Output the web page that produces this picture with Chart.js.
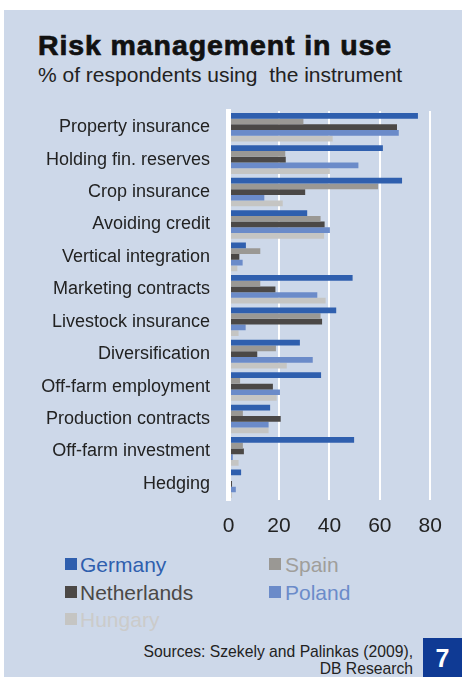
<!DOCTYPE html>
<html>
<head>
<meta charset="utf-8">
<script src="https://cdn.jsdelivr.net/npm/chart.js@4.4.1/dist/chart.umd.min.js"></script>
<style>
  html, body { margin: 0; padding: 0; background: #ffffff; width: 462px; height: 677px; overflow: hidden; }
  body { position: relative; font-family: "Liberation Sans", Arial, sans-serif; }
  #panel { position: absolute; left: 4px; top: 10px; right: 0; bottom: 0; background: #cdd8e9; }
  #title { position: absolute; left: 38px; top: 31px; font-size: 28.5px; font-weight: bold; color: #111; letter-spacing: 0.9px; -webkit-text-stroke: 0.7px #111; white-space: pre; line-height: 1; }
  #subtitle { position: absolute; left: 38px; top: 64px; font-size: 21px; color: #222; white-space: pre; line-height: 1; }
  #chartwrap { position: absolute; left: 0; top: 100px; width: 462px; height: 450px; }
  #chartwrap canvas { display: block; }
  .leg { position: absolute; font-size: 21px; line-height: 1; white-space: pre; }
  .mk { position: absolute; width: 12px; height: 12px; }
  #sources { position: absolute; right: 49px; top: 643px; font-size: 15.7px; line-height: 17px; color: #222; text-align: right; white-space: pre; }
  #badge { position: absolute; left: 423px; top: 638px; width: 39px; height: 39px; background: #0f3a94; color: #fff; font-weight: bold; font-size: 25px; text-align: center; line-height: 40px; }
</style>
</head>
<body>
<div id="panel"></div>
<div id="title">Risk management in use</div>
<div id="subtitle">% of respondents using  the instrument</div>
<div id="chartwrap"><canvas id="c" width="462" height="450"></canvas></div>
<div id="legend"></div>
<div id="sources">Sources: Szekely and Palinkas (2009),
DB Research</div>
<div id="badge">7</div>
<script>
const categories = [
  "Property insurance", "Holding fin. reserves", "Crop insurance", "Avoiding credit",
  "Vertical integration", "Marketing contracts", "Livestock insurance", "Diversification",
  "Off-farm employment", "Production contracts", "Off-farm investment", "Hedging"
];
const germany     = [75.1, 61.2, 68.8, 31.2, 6.9, 49.2, 42.7, 28.3, 36.7, 16.5, 49.8, 5.0];
const spain       = [29.7, 22.5, 59.3, 36.5, 12.6, 12.6, 36.5, 18.8, 4.6, 5.7, 5.7, 0];
const netherlands = [66.8, 22.7, 30.4, 38.1, 4.3, 18.6, 37.1, 11.4, 17.6, 20.7, 6.1, 1.4];
const poland      = [67.5, 51.5, 14.2, 40.2, 5.6, 35.2, 6.8, 33.4, 20.4, 15.9, 1.7, 2.9];
const hungary     = [41.3, 40.2, 21.5, 37.9, 3.5, 38.5, 4.0, 23.1, 19.1, 15.9, 4.0, 1.4];
const seriesNames = ["Germany", "Spain", "Netherlands", "Poland", "Hungary"];
const xTicks = [0, 20, 40, 60, 80];

const barColors  = ["#2f5fae", "#9a9894", "#4b4846", "#6b8bc9", "#c5c5c3"];
const textColors = ["#2f5fae", "#a09e9a", "#4b4846", "#6b8bc9", "#cbcbca"];
const seriesData = [germany, spain, netherlands, poland, hungary];

const datasets = seriesNames.map((name, i) => ({
  label: name,
  data: seriesData[i],
  backgroundColor: barColors[i],
  borderWidth: 0,
  categoryPercentage: 0.88,
  barPercentage: 1.0
}));

new Chart(document.getElementById('c'), {
  type: 'bar',
  data: { labels: categories, datasets },
  options: {
    indexAxis: 'y',
    responsive: false,
    animation: false,
    devicePixelRatio: 1,
    layout: { padding: { left: 0, right: 31.7, top: 11, bottom: 10 } },
    plugins: { legend: { display: false }, tooltip: { enabled: false } },
    scales: {
      x: {
        min: 0, max: 80,
        afterBuildTicks: s => { s.ticks = xTicks.map(v => ({ value: v })); },
        afterFit: s => { s.height = 40; s.paddingLeft = 0; s.paddingRight = 0; },
        ticks: { color: '#222', font: { family: 'Liberation Sans', size: 21 }, padding: 14 },
        grid: { color: '#ffffff', lineWidth: 2, drawTicks: false },
        border: { display: false }
      },
      y: {
        afterFit: s => { s.width = 228.5; s.paddingTop = 0; s.paddingBottom = 0; },
        ticks: { color: '#222', font: { family: 'Liberation Sans', size: 18 }, padding: 18.5, autoSkip: false },
        grid: { display: false, drawTicks: false },
        border: { display: true, color: '#ffffff', width: 5, z: 1 }
      }
    }
  }
});

// HTML legend built from the series arrays
const legendPos = [
  { mx: 65, tx: 80, y: 564 },   // Germany
  { mx: 269, tx: 285, y: 564 }, // Spain
  { mx: 65, tx: 80, y: 592 },   // Netherlands
  { mx: 269, tx: 285, y: 592 }, // Poland
  { mx: 65, tx: 80, y: 619 }    // Hungary
];
const legend = document.getElementById('legend');
seriesNames.forEach((name, i) => {
  const p = legendPos[i];
  const mk = document.createElement('div');
  mk.className = 'mk';
  mk.style.left = p.mx + 'px';
  mk.style.top = (p.y - 6) + 'px';
  mk.style.background = barColors[i];
  legend.appendChild(mk);
  const t = document.createElement('div');
  t.className = 'leg';
  t.style.left = p.tx + 'px';
  t.style.top = (p.y - 10) + 'px';
  t.style.color = textColors[i];
  t.textContent = name;
  legend.appendChild(t);
});
</script>
</body>
</html>
